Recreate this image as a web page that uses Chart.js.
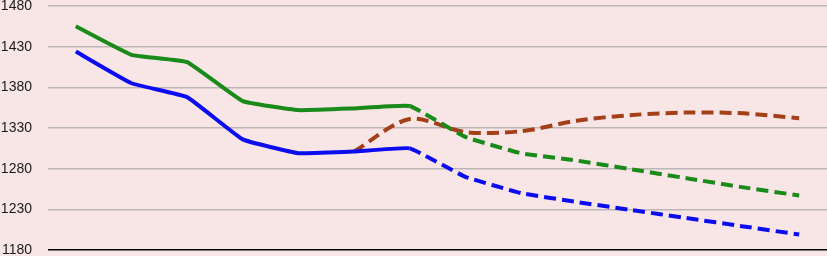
<!DOCTYPE html>
<html>
<head>
<meta charset="utf-8">
<script src="https://cdn.jsdelivr.net/npm/chart.js@4/dist/chart.umd.min.js"></script>
<style>
  html, body { margin: 0; padding: 0; background: #f8e6e6; }
  #wrap { width: 827px; height: 256px; position: relative; }
</style>
</head>
<body>
<div id="wrap"><canvas id="c" width="827" height="256"></canvas></div>
<script>
const categories = ["1", "2", "3", "4", "5", "6", "7", "8", "9", "10", "11", "12", "13", "14"];
const greenSeries = [1455, 1420, 1411, 1363, 1352, 1354, 1357, 1319, 1299, 1290, 1279, 1268, 1257, 1247];
const blueSeries  = [1424, 1385, 1368, 1316, 1299, 1301, 1305, 1270, 1250, 1239, 1229, 1219, 1209, 1199];
const brownSeries = [null, null, null, null, null, 1301, 1341, 1325, 1326, 1339, 1346, 1349, 1348, 1342];
const yTicks = [1180, 1230, 1280, 1330, 1380, 1430, 1480];
const dashFrom = 6;

const dashAfter = ctx => ctx.p0DataIndex >= dashFrom ? [12, 6] : undefined;

new Chart(document.getElementById('c'), {
  type: 'line',
  data: {
    labels: categories,
    datasets: [
      { data: greenSeries, borderColor: '#1a8a1a', borderWidth: 4, pointRadius: 0, tension: 0.1,
        segment: { borderDash: dashAfter } },
      { data: blueSeries, borderColor: '#0c0cf2', borderWidth: 4, pointRadius: 0, tension: 0.1,
        segment: { borderDash: dashAfter } },
      { data: brownSeries, borderColor: '#a3401a', borderWidth: 4, pointRadius: 0, tension: 0.3,
        borderDash: [12, 6], spanGaps: false }
    ]
  },
  options: {
    responsive: false,
    animation: false,
    layout: { padding: { top: 6, bottom: 6, left: 0, right: 0 } },
    plugins: { legend: { display: false }, tooltip: { enabled: false } },
    scales: {
      x: { display: false, offset: true },
      y: {
        min: 1180, max: 1480,
        afterBuildTicks: s => { s.ticks = yTicks.map(v => ({ value: v })); },
        afterFit: s => { s.width = 48; s.paddingTop = 0; s.paddingBottom = 0; },
        border: { display: false },
        grid: {
          drawTicks: false,
          color: c => c.tick && c.tick.value === 1180 ? '#000000' : '#bdb6b6',
          lineWidth: 1.5
        },
        ticks: { padding: 16, color: '#1a1a1a', font: { family: 'Liberation Sans', size: 14 },
          callback: v => String(v) }
      }
    }
  }
});
</script>
</body>
</html>
